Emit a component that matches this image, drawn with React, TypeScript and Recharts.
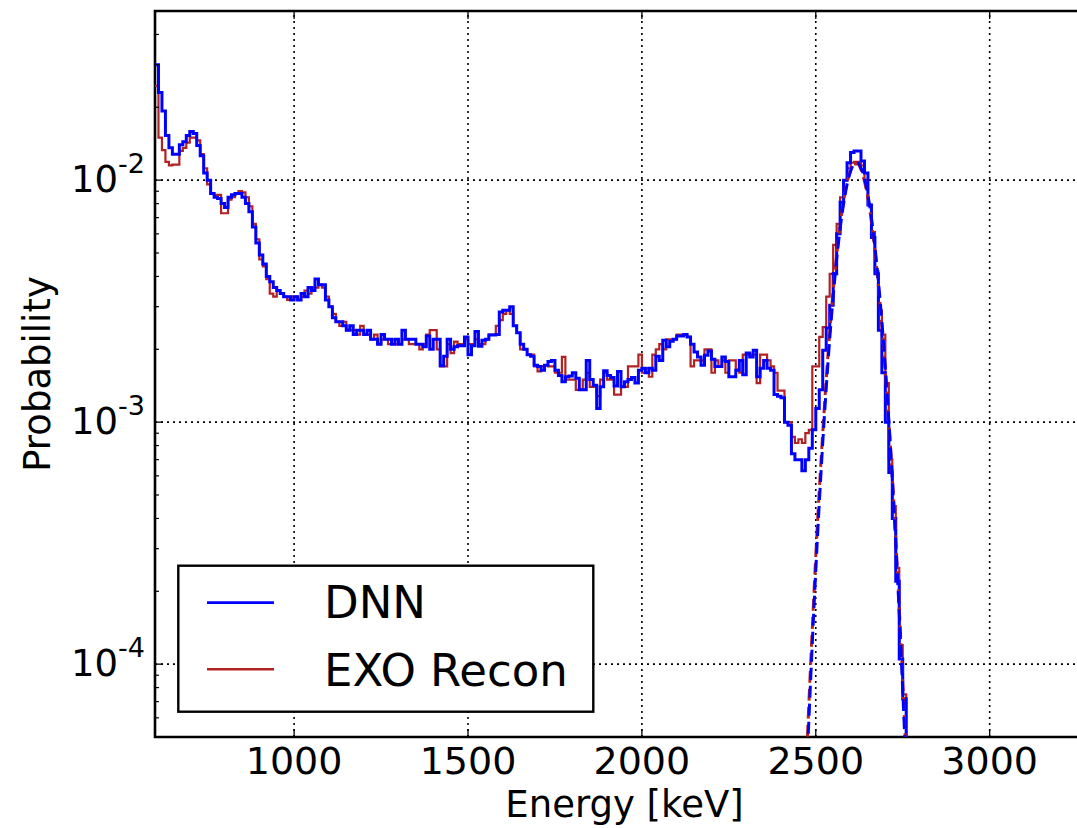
import React from 'react';
import {
  ComposedChart,
  Line,
  XAxis,
  YAxis,
  ReferenceLine,
  ReferenceArea,
  Legend,
} from 'recharts';

// Histogram binning (keV)
const BIN_START = 600;
const BIN_WIDTH = 10;

// Normalised energy spectra, one value per 10 keV bin starting at 600 keV
const DNN_PROB = [
  0.0300, 0.0230, 0.0193, 0.0153, 0.0136, 0.0128, 0.0128, 0.0140, 0.0144, 0.0153,
  0.0159, 0.0156, 0.0139, 0.0126, 0.0107, 0.0100, 0.0088, 0.0085, 0.0084, 0.0080,
  0.0077, 0.0085, 0.0087, 0.0088, 0.0088, 0.0085, 0.0080, 0.0074, 0.0064, 0.0055,
  0.0049, 0.0045, 0.0040, 0.0038, 0.0036, 0.0035, 0.0034, 0.0033, 0.0033, 0.0032,
  0.0033, 0.0032, 0.0034, 0.0033, 0.0036, 0.0035, 0.0039, 0.0037, 0.0037, 0.0032,
  0.0030, 0.0027, 0.0026, 0.0026, 0.0025, 0.0024, 0.0025, 0.0023, 0.0024, 0.0024,
  0.0023, 0.0024, 0.0022, 0.0022, 0.0021, 0.0023, 0.0022, 0.0022, 0.0021, 0.0022,
  0.0021, 0.0024, 0.0022, 0.0022, 0.0022, 0.0021, 0.0021, 0.00205, 0.00227, 0.0020,
  0.0022, 0.0022, 0.00171, 0.00187, 0.0022, 0.0020, 0.00205, 0.00207, 0.00207, 0.00225,
  0.0019, 0.00207, 0.00237, 0.00206, 0.00218, 0.0022, 0.00229, 0.00229, 0.0023, 0.00285,
  0.0029, 0.0029, 0.0030, 0.0025, 0.00234, 0.0021, 0.0020, 0.0019, 0.00187, 0.00172,
  0.0017, 0.00164, 0.00172, 0.00178, 0.0018, 0.00164, 0.00156, 0.00147, 0.00154, 0.00155,
  0.0016, 0.00152, 0.00136, 0.00136, 0.0018, 0.0015, 0.00142, 0.00114, 0.0014, 0.00163,
  0.00156, 0.00153, 0.00141, 0.00162, 0.0014, 0.00147, 0.0015, 0.00153, 0.00145, 0.00164,
  0.00167, 0.0016, 0.00167, 0.00164, 0.00187, 0.0018, 0.00218, 0.00205, 0.00216, 0.0022,
  0.00227, 0.00227, 0.0023, 0.00225, 0.0021, 0.00195, 0.00186, 0.00172, 0.00189, 0.00197,
  0.00182, 0.0017, 0.0017, 0.00186, 0.00178, 0.00154, 0.00154, 0.00164, 0.0018, 0.00157,
  0.00193, 0.00186, 0.00198, 0.00154, 0.00167, 0.0018, 0.00167, 0.00164, 0.0013, 0.00128,
  0.00126, 0.0010, 0.00097, 0.00074, 0.0007, 0.0007, 0.00063, 0.0007, 0.00078, 0.00093,
  0.00114, 0.00136, 0.00198, 0.00245, 0.00304, 0.0041, 0.0060, 0.0081, 0.0100, 0.0118,
  0.0130, 0.0132, 0.0132, 0.0120, 0.0107, 0.0079, 0.0058, 0.0041, 0.0024, 0.0016,
  0.0010, 0.00062, 0.00040, 0.00022, 0.000105, 0.000072, 0.00001, 0.00001,
];

const EXO_PROB = [
  0.0245, 0.0150, 0.0133, 0.0119, 0.0115, 0.0116, 0.0116, 0.0132, 0.0136, 0.0143,
  0.0150, 0.0150, 0.0146, 0.0128, 0.0112, 0.0096, 0.0088, 0.0087, 0.0087, 0.0073,
  0.0073, 0.0083, 0.0085, 0.0088, 0.0090, 0.0089, 0.0085, 0.0078, 0.0066, 0.0057,
  0.0047, 0.0044, 0.0039, 0.0034, 0.0033, 0.0035, 0.0034, 0.0033, 0.0032, 0.0033,
  0.0033, 0.0032, 0.0033, 0.0035, 0.0034, 0.0036, 0.0036, 0.0037, 0.0036, 0.0033,
  0.0030, 0.0028, 0.0026, 0.0025, 0.0026, 0.0024, 0.0024, 0.0024, 0.0023, 0.0025,
  0.0023, 0.0023, 0.0022, 0.0023, 0.0021, 0.0022, 0.0022, 0.0021, 0.0022, 0.0021,
  0.0021, 0.0022, 0.0022, 0.0021, 0.0021, 0.0021, 0.0020, 0.0021, 0.0023, 0.0024,
  0.0024, 0.0020, 0.0017, 0.0017, 0.0021, 0.00193, 0.00215, 0.0021, 0.0021, 0.0022,
  0.0021, 0.0021, 0.0022, 0.0021, 0.0021, 0.0022, 0.0023, 0.0023, 0.0025, 0.00264,
  0.0028, 0.0029, 0.0028, 0.0025, 0.00234, 0.0020, 0.0020, 0.0019, 0.0019, 0.0017,
  0.00162, 0.0017, 0.00172, 0.0017, 0.0017, 0.0016, 0.0016, 0.00186, 0.0015, 0.0015,
  0.0015, 0.00136, 0.00136, 0.0015, 0.0016, 0.0014, 0.0014, 0.00128, 0.0015, 0.0016,
  0.0015, 0.0015, 0.0013, 0.0013, 0.0014, 0.0014, 0.0017, 0.0017, 0.0017, 0.0019,
  0.0016, 0.00167, 0.00154, 0.0019, 0.0020, 0.0021, 0.0020, 0.0022, 0.0022, 0.0022,
  0.0023, 0.0023, 0.0023, 0.00225, 0.0017, 0.0018, 0.0018, 0.0018, 0.0020, 0.0020,
  0.0016, 0.0018, 0.0017, 0.0018, 0.0016, 0.0018, 0.0018, 0.00165, 0.0016, 0.0019,
  0.0019, 0.0019, 0.0019, 0.00145, 0.0019, 0.0019, 0.0018, 0.0017, 0.0016, 0.00135,
  0.00135, 0.0010, 0.0010, 0.00087, 0.00082, 0.00085, 0.00082, 0.0009, 0.00093, 0.0017,
  0.0017, 0.00225, 0.00247, 0.0033, 0.0041, 0.0054, 0.0066, 0.0085, 0.0100, 0.0112,
  0.0118, 0.0119, 0.0119, 0.0115, 0.0100, 0.0079, 0.0061, 0.0042, 0.0029, 0.0023,
  0.00145, 0.0007, 0.00045, 0.00025, 0.00012, 0.000075, 0.00001, 0.00001,
];

// Peak fit curves around the 2615 keV line
const FIT_ENERGY = [
  2470, 2480, 2490, 2500, 2510, 2520, 2530, 2540, 2550, 2560,
  2570, 2580, 2590, 2600, 2610, 2620, 2630, 2640, 2650, 2660,
  2670, 2680, 2690, 2700, 2710, 2720, 2730, 2740, 2750, 2760,
];
const DNN_FIT = [
  2.6e-5, 5.8e-5, 1.22e-4, 2.44e-4, 4.6e-4, 8.2e-4, 0.00138, 0.0022, 0.0033, 0.0047,
  0.0063, 0.0080, 0.0096, 0.01087, 0.01164, 0.01177, 0.01125, 0.01016, 0.00866, 0.00699,
  0.00532, 0.00383, 0.00261, 0.00168, 0.00102, 0.000583, 0.000316, 0.000162, 7.8e-5, 3.6e-5,
];
const EXO_FIT = [
  3.0e-5, 6.8e-5, 1.4e-4, 2.8e-4, 5.2e-4, 9.0e-4, 0.0015, 0.00235, 0.0035, 0.0049,
  0.0065, 0.0082, 0.00975, 0.01095, 0.01165, 0.01165, 0.01105, 0.0099, 0.0084, 0.00675,
  0.0051, 0.00365, 0.0025, 0.00162, 0.0010, 0.0006, 0.00033, 0.00017, 8.5e-5, 4.0e-5,
];

const X_TICKS = [1000, 1500, 2000, 2500, 3000];
const Y_MAJOR = [1e-4, 1e-3, 1e-2];
const Y_MINOR = [
  6e-5, 7e-5, 8e-5, 9e-5,
  2e-4, 3e-4, 4e-4, 5e-4, 6e-4, 7e-4, 8e-4, 9e-4,
  2e-3, 3e-3, 4e-3, 5e-3, 6e-3, 7e-3, 8e-3, 9e-3,
  2e-2, 3e-2, 4e-2,
];

const SERIES = [
  { name: 'DNN', color: '#0000ff' },
  { name: 'EXO Recon', color: '#b22222' },
];

const FONT = '"DejaVu Sans", Verdana, sans-serif';
const PLOT_TOP = 11;

// Step histogram rows: each bin's left edge, plus a closing right edge
const histRows = (vals: number[]) => [
  ...vals.map((p, i) => ({ e: BIN_START + i * BIN_WIDTH, p })),
  { e: BIN_START + vals.length * BIN_WIDTH, p: vals[vals.length - 1] },
];
const fitRows = (vals: number[]) => FIT_ENERGY.map((e, i) => ({ e, p: vals[i] }));

const dnnRows = histRows(DNN_PROB);
const exoRows = histRows(EXO_PROB);
const dnnFitRows = fitRows(DNN_FIT);
const exoFitRows = fitRows(EXO_FIT);

function XTick(props: any) {
  const { x, y, payload } = props;
  return (
    <g>
      <line x1={x} x2={x} y1={y} y2={y - 8} stroke="#000" strokeWidth={1.3} />
      <line x1={x} x2={x} y1={PLOT_TOP} y2={PLOT_TOP + 8} stroke="#000" strokeWidth={1.3} />
      <text x={x} y={y + 37} textAnchor="middle" fontSize={38} fontFamily={FONT} fill="#000">
        {payload.value}
      </text>
    </g>
  );
}

function YTick(props: any) {
  const { x, y, payload } = props;
  const v = payload.value as number;
  const lg = Math.log10(v);
  const exp = Math.round(lg);
  const major = Math.abs(lg - exp) < 1e-6;
  if (!major) {
    return <line x1={x} x2={x + 4} y1={y} y2={y} stroke="#000" strokeWidth={1.2} />;
  }
  return (
    <g>
      <line x1={x} x2={x + 8} y1={y} y2={y} stroke="#000" strokeWidth={1.3} />
      <text x={x - 10} y={y + 12} textAnchor="end" fontFamily={FONT} fill="#000">
        <tspan fontSize={37}>10</tspan>
        <tspan fontSize={27} dy={-19}>{`${exp}`}</tspan>
      </text>
    </g>
  );
}

function LegendBox(props: any) {
  const payload: any[] = props.payload || [];
  const items = SERIES.map((s) => {
    const found = payload.find((p) => p.value === s.name);
    return { name: s.name, color: (found && found.color) || s.color };
  });
  return (
    <svg width={420} height={152} style={{ display: 'block' }}>
      <rect x={2.3} y={1.7} width={415} height={146} fill="#fff" stroke="#000" strokeWidth={2.4} />
      {items.map((it, i) => (
        <g key={it.name}>
          <line
            x1={31}
            x2={98}
            y1={38.7 + i * 66.6}
            y2={38.7 + i * 66.6}
            stroke={it.color}
            strokeWidth={i === 0 ? 2.8 : 2.4}
          />
          <text x={148} y={54 + i * 67.5} fontSize={45} fontFamily={FONT} fill="#000">
            {it.name}
          </text>
        </g>
      ))}
    </svg>
  );
}

export default function App() {
  return (
    <div
      style={{
        position: 'absolute',
        left: 0,
        top: 0,
        width: 1077,
        height: 828,
        overflow: 'hidden',
        background: '#fff',
      }}
    >
      <ComposedChart width={1094} height={828} margin={{ top: PLOT_TOP, right: 0, bottom: 0, left: 0 }}>
        <XAxis
          type="number"
          dataKey="e"
          domain={[600, 3300]}
          ticks={X_TICKS}
          interval={0}
          allowDataOverflow
          axisLine={false}
          tickLine={false}
          tickSize={0}
          tickMargin={0}
          height={91}
          tick={(p: any) => <XTick {...p} />}
          label={(p: any) => {
            const vb = p.viewBox || { x: 155, y: 737, width: 939, height: 91 };
            return (
              <text
                x={vb.x + vb.width / 2}
                y={vb.y + 80}
                textAnchor="middle"
                fontSize={37}
                fontFamily={FONT}
                fill="#000"
              >
                Energy [keV]
              </text>
            );
          }}
        />
        <YAxis
          type="number"
          scale="log"
          domain={[5e-5, 0.05]}
          ticks={[...Y_MINOR, ...Y_MAJOR].sort((a, b) => a - b)}
          interval={0}
          allowDataOverflow
          axisLine={false}
          tickLine={false}
          tickSize={0}
          tickMargin={0}
          width={155}
          tick={(p: any) => <YTick {...p} />}
          label={(p: any) => {
            const vb = p.viewBox || { x: 0, y: 11, width: 155, height: 726 };
            const cy = vb.y + vb.height / 2;
            return (
              <text
                x={50}
                y={cy}
                transform={`rotate(-90 50 ${cy})`}
                textAnchor="middle"
                fontSize={37}
                fontFamily={FONT}
                fill="#000"
              >
                Probability
              </text>
            );
          }}
        />

        {X_TICKS.map((t) => (
          <ReferenceLine key={`gx${t}`} x={t} stroke="#000" strokeWidth={1.6} strokeDasharray="2 4" />
        ))}
        {Y_MAJOR.map((t) => (
          <ReferenceLine key={`gy${t}`} y={t} stroke="#000" strokeWidth={1.6} strokeDasharray="2 4" />
        ))}

        <Line
          data={exoRows}
          dataKey="p"
          name="EXO Recon"
          type="stepAfter"
          stroke="#b22222"
          strokeWidth={2.2}
          dot={false}
          activeDot={false}
          isAnimationActive={false}
        />
        <Line
          data={dnnRows}
          dataKey="p"
          name="DNN"
          type="stepAfter"
          stroke="#0000ff"
          strokeWidth={3}
          dot={false}
          activeDot={false}
          isAnimationActive={false}
        />
        <Line
          data={exoFitRows}
          dataKey="p"
          name="EXO Recon fit"
          type="monotone"
          stroke="#b22222"
          strokeWidth={3}
          strokeDasharray="12 6"
          legendType="none"
          dot={false}
          activeDot={false}
          isAnimationActive={false}
        />
        <Line
          data={dnnFitRows}
          dataKey="p"
          name="DNN fit"
          type="monotone"
          stroke="#0000ff"
          strokeWidth={3}
          strokeDasharray="12 6"
          legendType="none"
          dot={false}
          activeDot={false}
          isAnimationActive={false}
        />

        <ReferenceArea
          x1={600}
          x2={3300}
          y1={5e-5}
          y2={0.05}
          fill="none"
          stroke="#000"
          strokeWidth={2.6}
          ifOverflow="visible"
        />

        <Legend
          layout="horizontal"
          verticalAlign="middle"
          align="center"
          wrapperStyle={{ left: 176, top: 564, width: 420, height: 152 }}
          content={(p: any) => <LegendBox {...p} />}
        />
      </ComposedChart>
    </div>
  );
}
